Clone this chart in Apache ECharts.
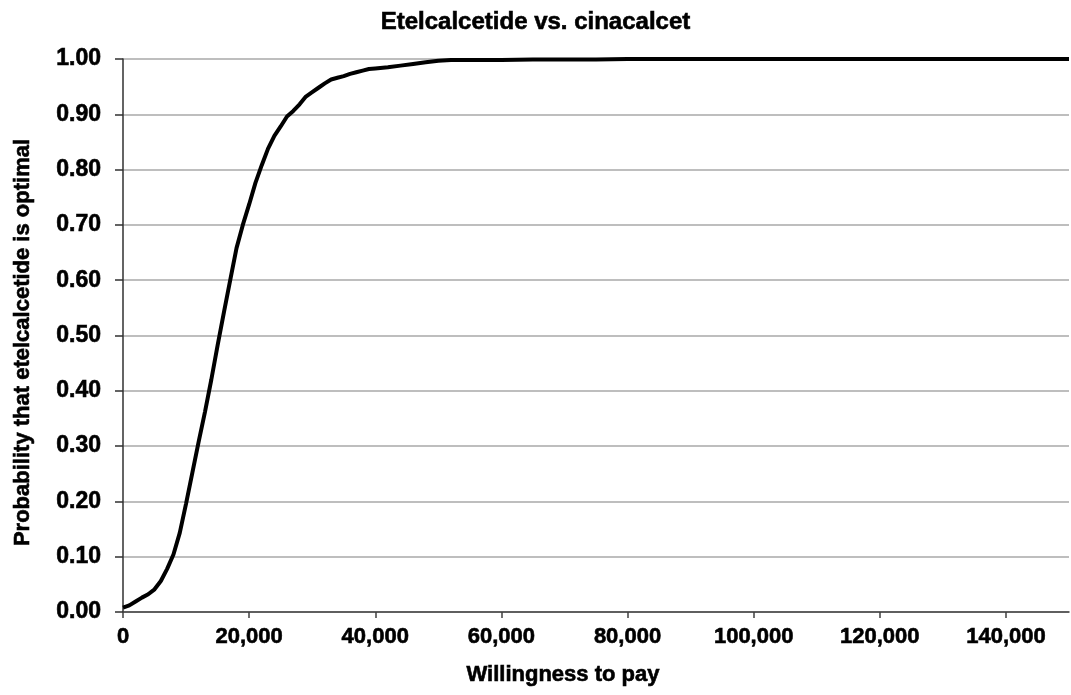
<!DOCTYPE html>
<html>
<head>
<meta charset="utf-8">
<title>Etelcalcetide vs. cinacalcet</title>
<script src="https://cdn.jsdelivr.net/npm/echarts@6/dist/echarts.min.js"></script>
<style>
  html, body { margin: 0; padding: 0; background: #ffffff; }
  #chart { width: 1071px; height: 695px; }
</style>
</head>
<body>
<div id="chart"></div>
<script>
// Willingness to pay (x) and probability that etelcalcetide is optimal (y)
const wtp = [
  0, 1000, 2000, 3000, 4000, 5000, 6000, 7000, 8000, 9000,
  10000, 11000, 12000, 13000, 14000, 15000, 16000, 17000, 18000, 19000,
  20000, 21000, 22000, 23000, 24000, 25000, 26000, 27000, 28000, 29000,
  30000, 31000, 32000, 33000, 34000, 35000, 36000, 37000, 38000, 39000,
  40000, 42000, 44000, 46000, 48000, 50000, 52000, 55000, 60000, 65000,
  70000, 75000, 80000, 90000, 100000, 110000, 120000, 130000, 140000, 150000
];
const probOptimal = [
  0.008, 0.012, 0.019, 0.026, 0.032, 0.041, 0.056, 0.078, 0.104, 0.143,
  0.196, 0.252, 0.308, 0.362, 0.420, 0.482, 0.542, 0.600, 0.658, 0.700,
  0.737, 0.776, 0.808, 0.838, 0.861, 0.878, 0.896, 0.906, 0.918, 0.932,
  0.940, 0.948, 0.956, 0.963, 0.966, 0.969, 0.973, 0.976, 0.979, 0.982,
  0.983, 0.985, 0.988, 0.991, 0.994, 0.997, 0.998, 0.998, 0.998, 0.999,
  0.999, 0.999, 1.000, 1.000, 1.000, 1.000, 1.000, 1.000, 1.000, 1.000
];
const xTicks = [0, 20000, 40000, 60000, 80000, 100000, 120000, 140000];

const chart = echarts.init(document.getElementById('chart'), null, { renderer: 'canvas' });
const font = '"Liberation Sans", Arial, sans-serif';
// heavy bold text: a thin stroke of the same colour thickens the glyphs
const heavy = { fontFamily: font, fontWeight: 'bold', color: '#000', textBorderColor: '#000', textBorderWidth: 0.6 };

chart.setOption({
  backgroundColor: '#ffffff',
  animation: false,
  title: {
    text: 'Etelcalcetide vs. cinacalcet',
    left: 'center',
    top: 5,
    textStyle: Object.assign({}, heavy, { fontSize: 24 })
  },
  grid: { left: 123, right: 2, top: 59, bottom: 83, containLabel: false },
  xAxis: {
    type: 'value',
    min: 0,
    max: 150000,
    interval: 20000,
    name: 'Willingness to pay',
    nameLocation: 'middle',
    nameGap: 52,
    nameTextStyle: Object.assign({}, heavy, { fontSize: 22, padding: [0, 66, 0, 0] }),
    axisLine: { show: true, lineStyle: { color: '#404040', width: 1.5 } },
    axisTick: { show: true, length: 6, customValues: xTicks, lineStyle: { color: '#404040', width: 1.5 } },
    axisLabel: Object.assign({}, heavy, {
      customValues: xTicks,
      margin: 14,
      fontSize: 22,
      formatter: v => v.toLocaleString('en-US')
    }),
    splitLine: { show: false }
  },
  yAxis: {
    type: 'value',
    min: 0,
    max: 1,
    interval: 0.1,
    name: 'Probability that etelcalcetide is optimal',
    nameLocation: 'middle',
    nameGap: 89,
    nameTextStyle: Object.assign({}, heavy, { fontSize: 22, padding: [0, 14, 0, 0] }),
    axisLine: { show: true, lineStyle: { color: '#303030', width: 1.5 } },
    axisTick: { show: true, length: 8, lineStyle: { color: '#303030', width: 1.5 } },
    axisLabel: Object.assign({}, heavy, {
      margin: 22,
      fontSize: 23,
      formatter: v => v.toFixed(2)
    }),
    splitLine: { show: true, lineStyle: { color: '#a8a8a8', width: 1.5 } }
  },
  series: [{
    type: 'line',
    data: wtp.map((x, i) => [x, probOptimal[i]]),
    showSymbol: false,
    smooth: false,
    lineStyle: { color: '#000', width: 4 },
    clip: false
  }]
});
</script>
</body>
</html>
